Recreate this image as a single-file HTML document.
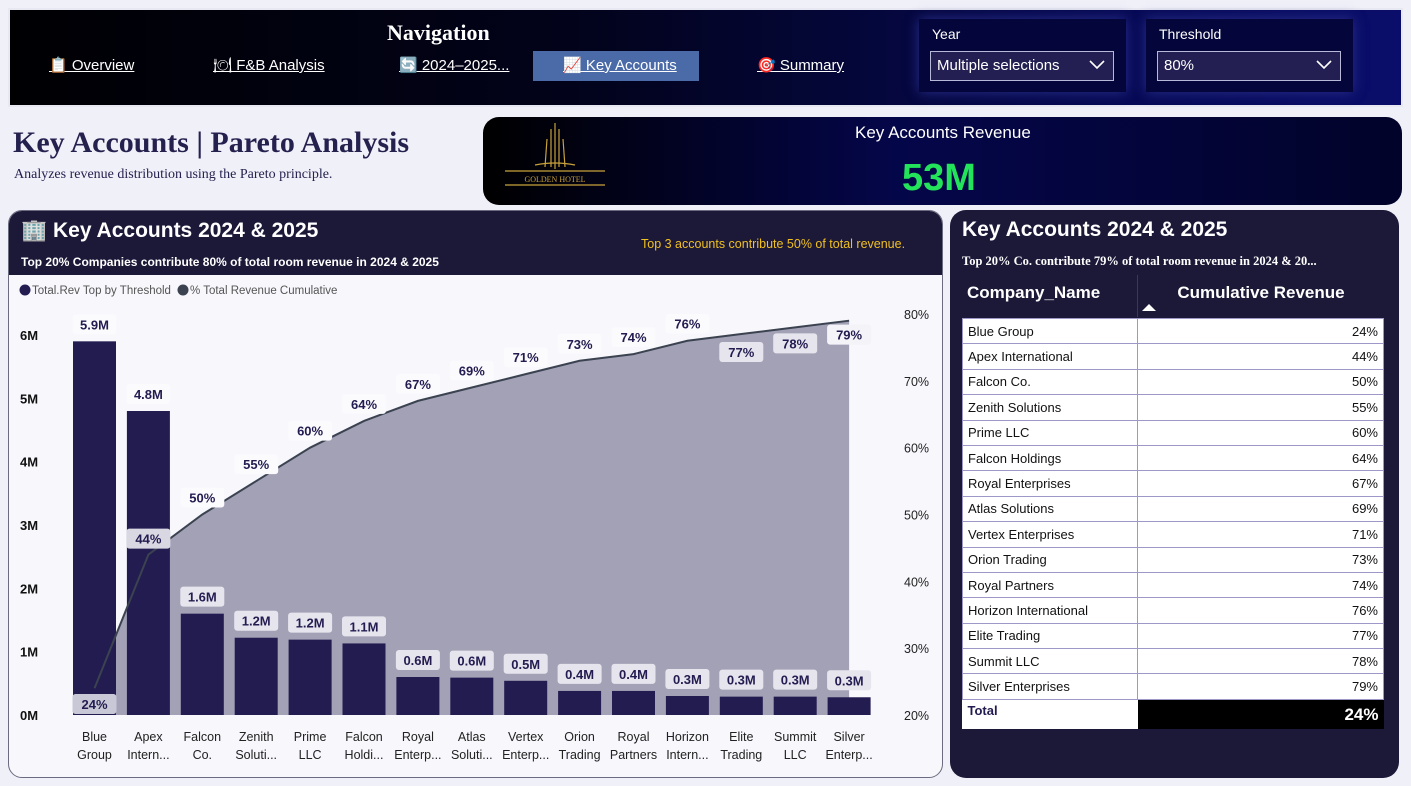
<!DOCTYPE html>
<html><head><meta charset="utf-8">
<style>
*{box-sizing:border-box;margin:0;padding:0}
body{width:1411px;height:786px;background:#f0f0f8;font-family:"Liberation Sans","DejaVu Sans",sans-serif;position:relative;overflow:hidden}
.abs{position:absolute}
.nav{left:8px;top:8px;width:1395px;height:99px;background:linear-gradient(90deg,#000003 0%,#02031a 40%,#06094f 75%,#0a0e6a 100%);border:2px solid #e8e8f2}
.tab{position:absolute;top:41px;height:30px;color:#fff;font-size:15px;line-height:30px;text-decoration:underline}
.slicer{position:absolute;top:19px;width:207px;height:73px;background:#04053a;box-shadow:0 0 12px #2a2f8a}
.slicer .lbl{position:absolute;left:13px;top:7px;color:#fff;font-size:14px}
.slicer .dd{position:absolute;left:11px;top:32px;width:184px;height:30px;background:#231f52;border:1px solid #b8b8d8;color:#fff;font-size:15px;line-height:28px;padding-left:6px}
.dd svg{position:absolute;right:8px;top:8px}
.card{border-radius:14px}
table{border-collapse:collapse}
</style></head>
<body>
<div class="abs nav">
  <div class="abs" style="left:377px;top:10px;color:#fff;font-family:'Liberation Serif',serif;font-weight:bold;font-size:22px">Navigation</div>
  <div class="tab" style="left:39px">📋 Overview</div>
  <div class="tab" style="left:203px">🍽 F&amp;B Analysis</div>
  <div class="tab" style="left:389px">🔄 2024–2025...</div>
  <div class="tab" style="left:523px;width:166px;background:#4a6aa8;padding-left:30px">📈 Key Accounts</div>
  <div class="tab" style="left:747px">🎯 Summary</div>
</div>
<div class="slicer" style="left:919px">
  <div class="lbl">Year</div>
  <div class="dd">Multiple selections<svg width="16" height="10"><polyline points="1,1 8,8 15,1" fill="none" stroke="#fff" stroke-width="1.6"/></svg></div>
</div>
<div class="slicer" style="left:1146px">
  <div class="lbl">Threshold</div>
  <div class="dd" style="width:184px">80%<svg width="16" height="10"><polyline points="1,1 8,8 15,1" fill="none" stroke="#fff" stroke-width="1.6"/></svg></div>
</div>

<div class="abs" style="left:13px;top:126px;font-family:'Liberation Serif',serif;font-weight:bold;font-size:30px;color:#25214f">Key Accounts | Pareto Analysis</div>
<div class="abs" style="left:14px;top:167px;font-family:'Liberation Serif',serif;font-size:14px;color:#25214f">Analyzes revenue distribution using the Pareto principle.</div>

<div class="abs card" style="left:483px;top:117px;width:919px;height:88px;background:linear-gradient(90deg,#000 0%,#04064a 45%,#02032a 100%);border-radius:16px">
  <div class="abs" style="left:22px;top:4px;width:100px;height:68px">
    <svg width="100" height="68"><g stroke="#c9a23a" stroke-width="1.2" fill="none"><line x1="50" y1="2" x2="50" y2="48"/><line x1="46" y1="8" x2="46" y2="46"/><line x1="54" y1="8" x2="54" y2="46"/><line x1="42" y1="18" x2="40" y2="46"/><line x1="58" y1="18" x2="60" y2="46"/><path d="M30 44 Q50 40 70 44"/><line x1="0" y1="50" x2="100" y2="50"/><line x1="0" y1="64" x2="100" y2="64"/></g><text x="50" y="61" fill="#c9a23a" font-size="8" text-anchor="middle" font-family="Liberation Serif,serif">GOLDEN HOTEL</text></svg>
  </div>
  <div class="abs" style="left:372px;top:6px;color:#fff;font-size:17px">Key Accounts Revenue</div>
  <div class="abs" style="left:419px;top:40px;color:#22e35a;font-weight:bold;font-size:38px">53M</div>
</div>

<div class="abs card" style="left:8px;top:210px;width:935px;height:568px;background:#f7f7fc;border:1.5px solid #6a6a80;overflow:hidden">
  <div class="abs" style="left:0;top:0;width:935px;height:64px;background:#1b1838">
    <div class="abs" style="left:12px;top:8px;color:#fff;font-weight:bold;font-size:21px">🏢 Key Accounts 2024 &amp; 2025</div>
    <div class="abs" style="left:12px;top:44px;color:#fff;font-weight:bold;font-size:12px">Top 20% Companies contribute 80% of total room revenue in 2024 &amp; 2025</div>
    <div class="abs" style="left:632px;top:26px;color:#f0c020;font-size:12.5px">Top 3 accounts contribute 50% of total revenue.</div>
  </div>
</div>
<svg class="abs" style="left:0;top:0" width="1411" height="786" id="chart"></svg>

<div class="abs card" style="left:950px;top:210px;width:449px;height:568px;background:#1b1838;border-radius:16px">
  <div class="abs" style="left:12px;top:8px;color:#fff;font-weight:bold;font-size:21px">Key Accounts 2024 &amp; 2025</div>
  <div class="abs" style="left:12px;top:44px;color:#fff;font-weight:bold;font-size:12.5px;font-family:'Liberation Serif',serif">Top 20% Co. contribute 79% of total room revenue in 2024 &amp; 20...</div>
  <div class="abs" style="left:12px;top:65px;width:175px;height:42px;color:#fff;font-weight:bold;font-size:17px;padding:8px 0 0 5px">Company_Name</div>
  <div class="abs" style="left:187px;top:65px;width:247px;height:42px;color:#fff;font-weight:bold;font-size:17px;padding-top:8px;text-align:center;border-left:1px solid #3a3660">Cumulative Revenue<div style="position:absolute;left:4px;top:29px;width:0;height:0;border-left:7px solid transparent;border-right:7px solid transparent;border-bottom:7px solid #fff"></div></div>
  <table class="abs" style="left:12px;top:108px;width:422px;background:#fff;font-size:13px;color:#111" id="tbl"></table>
</div>

<script>
const categories=["Blue Group","Apex International","Falcon Co.","Zenith Solutions","Prime LLC","Falcon Holdings","Royal Enterprises","Atlas Solutions","Vertex Enterprises","Orion Trading","Royal Partners","Horizon International","Elite Trading","Summit LLC","Silver Enterprises"];
const shortLabels=[["Blue","Group"],["Apex","Intern..."],["Falcon","Co."],["Zenith","Soluti..."],["Prime","LLC"],["Falcon","Holdi..."],["Royal","Enterp..."],["Atlas","Soluti..."],["Vertex","Enterp..."],["Orion","Trading"],["Royal","Partners"],["Horizon","Intern..."],["Elite","Trading"],["Summit","LLC"],["Silver","Enterp..."]];
const revenue=[5.9,4.8,1.6,1.22,1.19,1.13,0.6,0.59,0.54,0.38,0.38,0.3,0.29,0.29,0.28];
const revenueLabels=["5.9M","4.8M","1.6M","1.2M","1.2M","1.1M","0.6M","0.6M","0.5M","0.4M","0.4M","0.3M","0.3M","0.3M","0.3M"];
const cumulative=[24,44,50,55,60,64,67,69,71,73,74,76,77,78,79];
const leftTicks=[0,1,2,3,4,5,6];
const rightTicks=[20,30,40,50,60,70,80];
const totalLabel="24%";

const NS="http://www.w3.org/2000/svg";
const svg=document.getElementById('chart');
function mk(tag,attrs,parent){const e=document.createElementNS(NS,tag);for(const k in attrs)e.setAttribute(k,attrs[k]);(parent||svg).appendChild(e);return e;}
const x0=94.5,step=53.9,bw=43,base=715;
const xS=i=>x0+i*step;
const yL=v=>base-v*(380/6);
const yR=p=>base-(p-20)*(401/60);

let lg=mk('circle',{cx:25,cy:290,r:5.5,fill:'#231c50'});

let lt=mk('text',{x:32,y:294,'font-size':11.5,fill:'#555'});lt.textContent='Total.Rev Top by Threshold';

let lg2=mk('circle',{cx:183,cy:290,r:5.5,fill:'#3b4250'});

let lt2=mk('text',{x:190,y:294,'font-size':11.5,fill:'#555'});lt2.textContent='% Total Revenue Cumulative';


leftTicks.forEach(t=>{const e=mk('text',{x:20,y:yL(t)+5,'font-size':13,'font-weight':'bold',fill:'#111'});e.textContent=t+'M';
});
rightTicks.forEach(t=>{const e=mk('text',{x:904,y:yR(t)+5,'font-size':12.5,fill:'#222'});e.textContent=t+'%';
});

let pts=cumulative.map((c,i)=>xS(i)+','+yR(c));
let area=mk('polygon',{points:xS(0)+','+base+' '+pts.join(' ')+' '+xS(cumulative.length-1)+','+base,fill:'#a3a1b6'});


revenue.forEach((v,i)=>{const r=mk('rect',{x:xS(i)-bw/2,y:yL(v),width:bw,height:base-yL(v),fill:'#231c50'});
});

let ln=mk('polyline',{points:pts.join(' '),fill:'none',stroke:'#3b4250','stroke-width':2});


function label(txt,cx,cy,w,bg,name){
  const r=mk('rect',{x:cx-w/2,y:cy-10,width:w,height:20,rx:3,fill:bg});
  
  const t=mk('text',{x:cx,y:cy+5,'font-size':13,'font-weight':'bold',fill:'#231c50','text-anchor':'middle'});t.textContent=txt;
  
}
revenue.forEach((v,i)=>{label(revenueLabels[i],xS(i),yL(v)-17,44,i<2?'#fbfbfe':'#e6e5ee','bar-value-label');});
cumulative.forEach((c,i)=>{
  let cy,bg='#fbfbfe';
  if(i===0){cy=base-11;bg='#c9c8d6';}
  else if(i===1){cy=yR(c)-16;bg='#d8d7e2';}
  else if(i>=12){cy=yR(c)+18-(i-12)*2;bg=i===14?'#f3f3f8':'#e6e5ee';}
  else cy=yR(c)-17;
  label(c+'%',xS(i),cy,44,bg,'cumulative-value-label');
});

shortLabels.forEach((l,i)=>{l.forEach((s,j)=>{const t=mk('text',{x:xS(i),y:741+j*18,'font-size':12.5,fill:'#222','text-anchor':'middle'});t.textContent=s;
});});

const tbl=document.getElementById('tbl');
categories.forEach((c,i)=>{const tr=document.createElement('tr');


tr.innerHTML='<td style="height:25.4px;padding-left:5px;border:1px solid #9d98c8;width:175px">'+c+'</td><td style="text-align:right;padding-right:5px;border:1px solid #9d98c8">'+cumulative[i]+'%</td>';
tbl.appendChild(tr);});
const tr=document.createElement('tr');


tr.innerHTML='<td style="height:30px;padding:0 5px 8px;font-weight:bold;color:#231c50">Total</td><td style="background:#000;color:#fff;text-align:right;padding-right:5px;font-weight:bold;font-size:17px">'+totalLabel+'</td>';
tbl.appendChild(tr);
</script>
</body></html>
